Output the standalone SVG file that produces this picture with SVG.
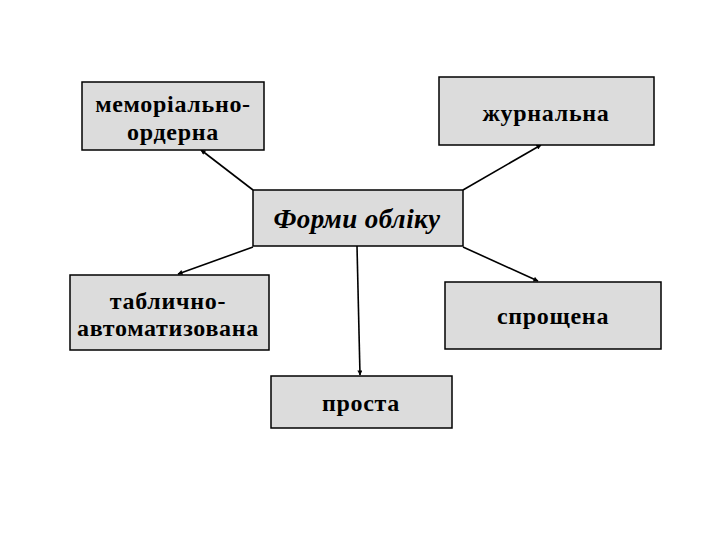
<svg xmlns="http://www.w3.org/2000/svg" width="720" height="540" viewBox="0 0 720 540">
<style>
.box{fill:#dcdcdc;stroke:#000;stroke-width:1.5}
.t{font-family:"Liberation Serif","Times New Roman",serif;font-weight:bold;font-size:24px;letter-spacing:0.7px;fill:#000;text-anchor:middle}
.ti{font-style:italic;font-size:27px;letter-spacing:0.4px}
.c{stroke:#000;stroke-width:1.6;fill:none;marker-end:url(#ah)}
</style>
<defs>
<marker id="ah" viewBox="0 0 10 10" refX="9" refY="5" markerWidth="7" markerHeight="5" orient="auto" markerUnits="userSpaceOnUse">
<path d="M0,0 L10,5 L0,10 z" fill="#000"/>
</marker>
</defs>
<rect width="720" height="540" fill="#fff"/>
<g id="connectors">
<line class="c" x1="253" y1="190" x2="201" y2="150"/>
<line class="c" x1="463" y1="190" x2="541" y2="145"/>
<line class="c" x1="253" y1="247" x2="178" y2="274"/>
<line class="c" x1="357" y1="246" x2="360" y2="375"/>
<line class="c" x1="463" y1="247" x2="538" y2="281"/>
</g>
<g id="n-memorial">
<rect class="box" x="82" y="82" width="182" height="68"/>
<text class="t" x="173" y="112">меморіально-</text>
<text class="t" x="173" y="140">ордерна</text>
</g>
<g id="n-journal">
<rect class="box" x="439" y="77" width="215" height="68"/>
<text class="t" x="546" y="121">журнальна</text>
</g>
<g id="n-center">
<rect class="box" x="253" y="190" width="210" height="56"/>
<text class="t ti" x="357" y="228">Форми обліку</text>
</g>
<g id="n-table">
<rect class="box" x="70" y="275" width="199" height="75"/>
<text class="t" x="168" y="309">таблично-</text>
<text class="t" x="168" y="336">автоматизована</text>
</g>
<g id="n-simplified">
<rect class="box" x="445" y="282" width="216" height="67"/>
<text class="t" x="553" y="324">спрощена</text>
</g>
<g id="n-simple">
<rect class="box" x="271" y="376" width="181" height="52"/>
<text class="t" x="361" y="411">проста</text>
</g>
</svg>
